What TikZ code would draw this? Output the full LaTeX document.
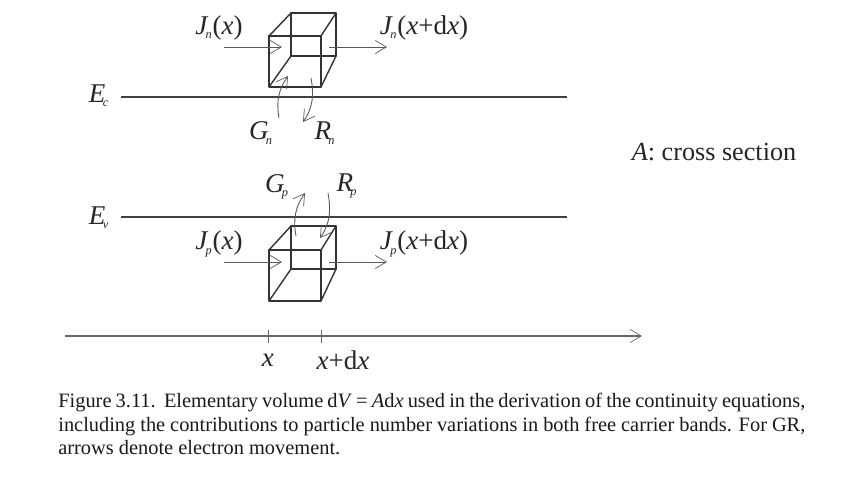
\documentclass[tikz,border=0pt]{standalone}
\usepackage{fontspec}
\setmainfont{Liberation Serif}
\usetikzlibrary{arrows.meta}

\tikzset{
  cubeline/.style={draw=black!80, line width=0.8pt, line join=round},
  bandline/.style={draw=black!75, line width=1.2pt},
  fluxarrow/.style={draw=black!65, line width=0.5pt, -{Straight Barb[length=2.2mm,width=2.6mm,line width=0.4pt]}},
  axisline/.style={draw=black!60, line width=0.5pt},
  quantity/.style={text=black!85, font=\fontsize{15.4}{18}\selectfont, inner sep=0pt}
}
\newcommand{\bandsub}[1]{\kern-1.5pt\raisebox{-2.5pt}{\fontsize{7}{9}\selectfont\textit{#1}}\kern0.5pt}

\begin{document}
\begin{tikzpicture}

        \useasboundingbox (0, 0) rectangle (17.28, 9.96);

        % bands and axis
        \coordinate (ecleft) at (2.42, 8.02); \coordinate (ecright) at (11.34, 8.02);
        \coordinate (evleft) at (2.42, 5.62); \coordinate (evright) at (11.34, 5.62);
        \coordinate (axisleft) at (1.3, 3.24); \coordinate (axisright) at (12.84, 3.24);
        \draw[bandline] (ecleft) -- (ecright);
        \draw[bandline] (evleft) -- (evright);
        \draw[fluxarrow, line width=0.7pt, draw=black!60] (axisleft) -- (axisright);
        \draw[axisline] (5.36, 3.36) -- (5.36, 3.1);
        \draw[axisline] (6.42, 3.36) -- (6.42, 3.1);

        % upper cube
        \draw[cubeline] (5.38, 8.22) rectangle (6.42, 9.24);
        \draw[cubeline] (5.82, 8.84) rectangle (6.72, 9.7);
        \draw[cubeline] (5.38, 9.24) -- (5.82, 9.7);
        \draw[cubeline] (6.42, 9.24) -- (6.72, 9.7);
        \draw[cubeline] (5.38, 8.22) -- (5.82, 8.84);
        \draw[cubeline] (6.42, 8.22) -- (6.72, 8.84);

        % lower cube
        \draw[cubeline] (5.38, 3.94) rectangle (6.42, 4.96);
        \draw[cubeline] (5.82, 4.58) rectangle (6.72, 5.44);
        \draw[cubeline] (5.38, 4.96) -- (5.82, 5.44);
        \draw[cubeline] (6.42, 4.96) -- (6.72, 5.44);
        \draw[cubeline] (5.38, 3.94) -- (5.82, 4.58);
        \draw[cubeline] (6.42, 3.94) -- (6.72, 4.58);

        % currents
        \coordinate (jnina) at (4.48, 9.02); \coordinate (jninb) at (5.64, 9.02);
        \coordinate (jnouta) at (6.58, 9.02); \coordinate (jnoutb) at (7.74, 9.02);
        \coordinate (jpina) at (4.48, 4.72); \coordinate (jpinb) at (5.64, 4.72);
        \coordinate (jpouta) at (6.58, 4.72); \coordinate (jpoutb) at (7.74, 4.72);
        \draw[fluxarrow] (jnina) -- (jninb);
        \draw[fluxarrow] (jnouta) -- (jnoutb);
        \draw[fluxarrow] (jpina) -- (jpinb);
        \draw[fluxarrow] (jpouta) -- (jpoutb);

        % generation and recombination
        \coordinate (gna) at (5.58, 7.6); \coordinate (gnb) at (5.76, 8.44);
        \coordinate (rna) at (6.22, 8.4); \coordinate (rnb) at (6.06, 7.52);
        \coordinate (gpa) at (5.92, 5.24); \coordinate (gpb) at (6.1, 6.1);
        \coordinate (rpa) at (6.56, 6.1); \coordinate (rpb) at (6.4, 5.2);
        \draw[fluxarrow] (gna) to[out=100, in=235] (gnb);
        \draw[fluxarrow] (rna) to[out=-80, in=55] (rnb);
        \draw[fluxarrow] (gpa) to[out=100, in=235] (gpb);
        \draw[fluxarrow] (rpa) to[out=-80, in=55] (rpb);

        % labels
        \node[quantity] (jninlabel) at (4.38, 9.4) {\textit{J}\bandsub{n}(\textit{x})};
        \node[quantity] (jnoutlabel) at (8.48, 9.4) {\textit{J}\bandsub{n}(\textit{x}+d\textit{x})};
        \node[quantity] (jpinlabel) at (4.38, 5.08) {\textit{J}\bandsub{p}(\textit{x})};
        \node[quantity] (jpoutlabel) at (8.48, 5.08) {\textit{J}\bandsub{p}(\textit{x}+d\textit{x})};
        \node[quantity] (eclabel) at (1.98, 8.04) {\textit{E}\bandsub{c}};
        \node[quantity] (evlabel) at (1.98, 5.6) {\textit{E}\bandsub{v}};
        \node[quantity] (gnlabel) at (5.22, 7.3) {\textit{G}\bandsub{n}};
        \node[quantity] (rnlabel) at (6.5, 7.3) {\textit{R}\bandsub{n}};
        \node[quantity] (gplabel) at (5.54, 6.22) {\textit{G}\bandsub{p}};
        \node[quantity] (rplabel) at (6.94, 6.24) {\textit{R}\bandsub{p}};
        \node[quantity] (xlabel) at (5.36, 2.76) {\textit{x}};
        \node[quantity] (xdxlabel) at (6.86, 2.76) {\textit{x}+d\textit{x}};
        \node[quantity, font=\fontsize{14.9}{18}\selectfont] (crosslabel) at (14.28, 6.92) {\textit{A}: cross section};

        % caption
        \node[anchor=north west, inner sep=0pt, text width=14.94cm, align=justify, font=\fontsize{11.6}{13.6}\selectfont, text=black!90] (caption) at (1.16, 2.11)
          {Figure 3.11.\ \ Elementary volume d\textit{V} = \textit{A}d\textit{x} used in the derivation of the continuity equations, including the contributions to particle number variations in both free carrier bands. For GR, arrows denote electron movement.};

      \end{tikzpicture}
\end{document}
